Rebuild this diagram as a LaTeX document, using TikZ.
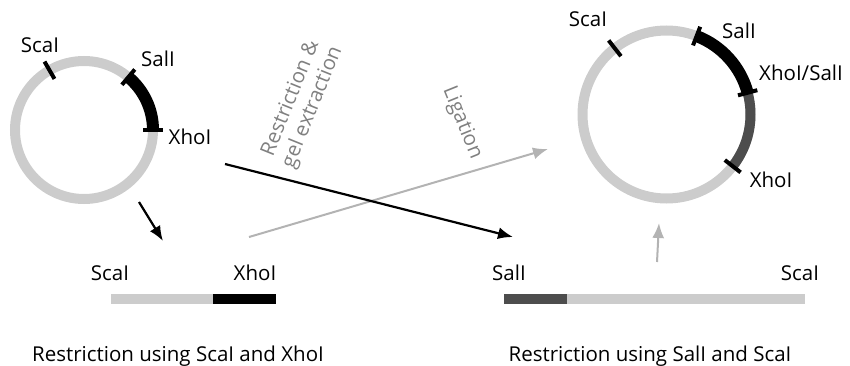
\documentclass[tikz,border=0pt]{standalone}
\usepackage{fontspec}
\setmainfont{Open Sans}
\usetikzlibrary{arrows.meta}
\definecolor{ring}{HTML}{CCCCCC}
\definecolor{dark}{HTML}{4D4D4D}
\definecolor{arrowgray}{HTML}{B3B3B3}
\definecolor{labelgray}{HTML}{808080}
\tikzset{
  ringstyle/.style={draw=ring, line width=10pt, circle, inner sep=0pt},
  insert/.style={line width=12pt, line cap=butt},
  tick/.style={line width=4pt},
  lbl/.style={font=\fontsize{20.5}{23}\selectfont, inner sep=0pt},
  blackarrow/.style={line width=2.2pt, -{Latex[length=15pt,width=12pt]}},
  grayarrow/.style={arrowgray, line width=2pt, -{Latex[length=15pt,width=12pt]}},
  steplabel/.style={font=\fontsize{20.5}{23.5}\selectfont, text=labelgray, align=center, inner sep=0pt},
}
\begin{document}
\begin{tikzpicture}[x=1pt,y=1pt]
\useasboundingbox (0,0) rectangle (850,365);
% left plasmid
\node[ringstyle, minimum size=138pt] (p1) at (84,235) {};
\draw[insert] ([shift={(50:69)}]p1.center) arc[start angle=50, end angle=0, radius=69];
\draw[tick] ([shift={(120:59)}]p1.center) -- ([shift={(120:79)}]p1.center);
\draw[tick] ([shift={(50:59)}]p1.center) -- ([shift={(50:79)}]p1.center);
\draw[tick] ([shift={(0:59)}]p1.center) -- ([shift={(0:79)}]p1.center);
\node[lbl] (l1a) at (40,320) {ScaI};
\node[lbl] (l1b) at (158,306) {SalI};
\node[lbl] (l1c) at (190,228) {XhoI};
% right plasmid
\node[ringstyle, minimum size=168pt] (p2) at (666.5,250.5) {};
\draw[insert] ([shift={(69:84)}]p2.center) arc[start angle=69, end angle=15, radius=84];
\draw[line width=10pt, dark] ([shift={(15:84)}]p2.center) arc[start angle=15, end angle=-38, radius=84];
\draw[tick] ([shift={(128:74)}]p2.center) -- ([shift={(128:94)}]p2.center);
\draw[tick] ([shift={(69:74)}]p2.center) -- ([shift={(69:94)}]p2.center);
\draw[tick] ([shift={(15:74)}]p2.center) -- ([shift={(15:94)}]p2.center);
\draw[tick] ([shift={(-38:74)}]p2.center) -- ([shift={(-38:94)}]p2.center);
\node[lbl] (l2a) at (588,346) {ScaI};
\node[lbl] (l2b) at (739,334) {SalI};
\node[lbl] (l2c) at (801,292) {XhoI/SalI};
\node[lbl] (l2d) at (771,185) {XhoI};
% fragments
\fill[ring] (111,61) rectangle (213,71);
\fill[black] (213,61) rectangle (276,71);
\node[lbl] (f1a) at (110,92) {ScaI};
\node[lbl] (f1b) at (255,92) {XhoI};
\fill[dark] (504,61) rectangle (567,71);
\fill[ring] (567,61) rectangle (805,71);
\node[lbl] (f2a) at (509,92) {SalI};
\node[lbl] (f2b) at (800,92) {ScaI};
% captions
\node[lbl] (c1) at (178,9) {Restriction using ScaI and XhoI};
\node[lbl] (c2) at (650,9) {Restriction using SalI and ScaI};
% arrows
\coordinate (a1s) at (139,163);
\coordinate (a1e) at (163,124);
\coordinate (a2s) at (225,201);
\coordinate (a2e) at (513,128);
\coordinate (a3s) at (249,128);
\coordinate (a3e) at (548,216);
\coordinate (a4s) at (657,103);
\coordinate (a4e) at (659,142);
\draw[grayarrow] (a3s) -- (a3e);
\draw[grayarrow] (a4s) -- (a4e);
\draw[blackarrow] (a1s) -- (a1e);
\draw[blackarrow] (a2s) -- (a2e);
\node[steplabel, rotate=68] (s1) at (302,262) {Restriction \&\\gel extraction};
\node[steplabel, rotate=-68] (s2) at (462,242) {Ligation};
\end{tikzpicture}
\end{document}
